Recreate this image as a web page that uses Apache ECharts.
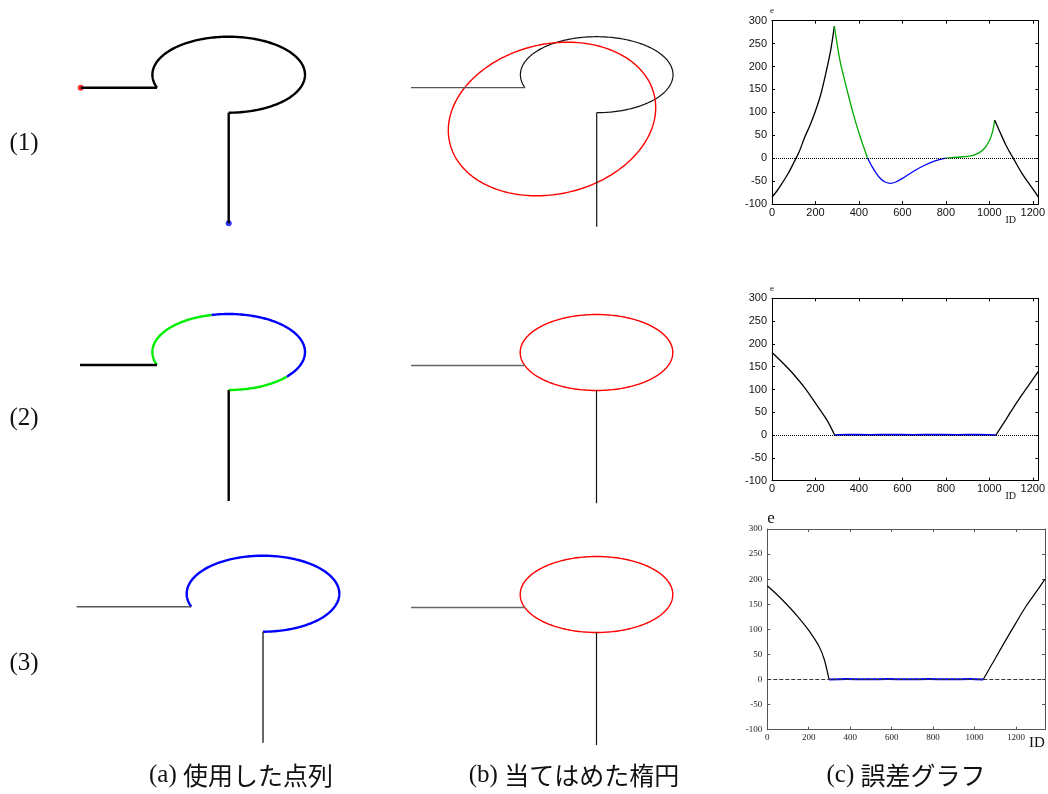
<!DOCTYPE html>
<html>
<head>
<meta charset="utf-8">
<script src="https://cdn.jsdelivr.net/npm/echarts@6/dist/echarts.min.js"></script>
<style>
  html, body { margin: 0; padding: 0; background: #fff; }
  #chart { width: 1048px; height: 794px; }
</style>
</head>
<body>
<div id="chart"></div>
<script>
// ---------- point sequences (drawing units, ellipse centre at origin, y up) ----------
// traced ellipse arc: radii and sweep (degrees, parametric angle)
const arcRadii = [76.3, 38];
const arcSweep = [200, -90];

// (1)(a)
const lead1a = [[-148, -13], [-71.7, -13]];
const stem1a = [[0, -38], [0, -148.6]];
// (1)(b)
const lead1b = [[-185.7, -13], [-71.7, -13]];
const stem1b = [[0, -38], [0, -152]];
const fit1b = [-44.7, -44.3, 105, 75, 13];      // cx, cy, a, b, tilt(deg)
// (2)(a)
const lead2a = [[-148.7, -13], [-71.7, -13]];
const stem2a = [[0, -38], [0, -149]];
const breaks2a = [200, 103, -40.5, -90];         // colour changes along the arc
// (2)(b)
const lead2b = [[-185.5, -13], [-71.7, -13]];
const stem2b = [[0, -38], [0, -150.8]];
const fit2b = [0, 0, 76.3, 38, 0];
// (3)(a)
const lead3a = [[-186.3, -13], [-71.7, -13]];
const stem3a = [[0, -38], [0, -149]];
// (3)(b)
const lead3b = [[-185.5, -13], [-71.7, -13]];
const stem3b = [[0, -38], [0, -150.5]];
const fit3b = [0, 0, 76.3, 38, 0];

// ---------- error curves e(ID) ----------
const err1Black1 = [[0,-85],[25,-70],[50,-52],[75,-33],[100,-10],[125,14],[150,45],[175,72],[200,103],[225,140],[250,190],[270,235],[287,288]];
const err1Green1 = [[287,288],[300,248],[315,208],[330,178],[350,140],[375,95],[400,55],[420,27],[440,0]];
const err1Blue   = [[440,0],[460,-18],[480,-33],[500,-45],[520,-52],[545,-55],[570,-52],[600,-44],[650,-29],[700,-16],[750,-6],[800,0]];
const err1Green2 = [[800,0],[850,2],[900,4],[925,6],[950,11],[975,20],[1000,38],[1015,58],[1025,83]];
const err1Black2 = [[1025,83],[1050,56],[1075,30],[1100,8],[1110,0],[1150,-33],[1200,-67],[1226,-85]];

const err2Black1 = [[0,181],[50,158],[100,133],[150,104],[200,70],[250,35],[270,18],[288,0]];
const err2Blue   = [[288,0],[350,1],[450,0.5],[550,1],[650,0.5],[750,1],[850,0.5],[950,1],[1030,0]];
const err2Black2 = [[1030,0],[1075,33],[1100,52],[1150,88],[1200,122],[1226,140]];

const err3Black1 = [[0,187],[50,168],[100,147],[150,124],[200,98],[250,66],[275,40],[298,0]];
const err3Blue   = [[298,0],[380,1],[480,0.5],[580,1],[680,0.5],[780,1],[880,0.5],[980,1],[1042,0]];
const err3Black2 = [[1042,0],[1100,42],[1150,78],[1200,113],[1250,147],[1300,176],[1340,200]];

const idMax = [1226, 1226, 1340];

// ---------- texts ----------
const rowLabels = ['(1)', '(2)', '(3)'];
const captionTags = ['(a)', '(b)', '(c)'];
const captionTexts = ['使用した点列', '当てはめた楕円', '誤差グラフ'];

// ---------- layout ----------
const SERIF = '"Liberation Serif", "DejaVu Serif", serif';
const SANS = '"Liberation Sans", Arial, sans-serif';
const CJK = '"Noto Sans CJK JP", sans-serif';

// shape panels: grid origin so that drawing units map 1:1 to pixels
const shapePanels = [
  { left: 28.7, top: 14.7 },   // (1)(a)
  { left: 396.7, top: 14.7 },  // (1)(b)
  { left: 28.7, top: 292 },    // (2)(a)
  { left: 396.5, top: 292.5 }, // (2)(b)
  { left: 63, top: 533.7 },    // (3)(a)
  { left: 396.5, top: 534.5 }  // (3)(b)
];
const errPanels = [
  { left: 772, top: 20.7, width: 269.7, height: 183.3 },
  { left: 772, top: 298.3, width: 269.7, height: 182.4 },
  { left: 767.3, top: 529, width: 279.4, height: 200.7 }
];

const grid = [];
const xAxis = [];
const yAxis = [];
shapePanels.forEach((p, i) => {
  grid.push({ left: p.left, top: p.top, width: 320, height: 220, show: false });
  xAxis.push({ type: 'value', gridIndex: i, min: -200, max: 120, show: false });
  yAxis.push({ type: 'value', gridIndex: i, min: -160, max: 60, show: false });
});

errPanels.forEach((p, k) => {
  const gi = shapePanels.length + k;
  const serifStyle = k === 2;
  const labelFont = serifStyle
    ? { fontFamily: SERIF, fontSize: 9, color: '#222' }
    : { fontFamily: SANS, fontSize: 11, color: '#111' };
  const frameColor = serifStyle ? '#555' : '#000';
  grid.push({ left: p.left, top: p.top, width: p.width, height: p.height, show: false });
  const xBase = {
    type: 'value', gridIndex: gi, min: 0, max: idMax[k], interval: 200,
    splitLine: { show: false },
    axisLine: { show: true, onZero: false, lineStyle: { color: frameColor, width: 1 } },
    axisTick: { show: true, inside: true, length: 3, lineStyle: { color: frameColor } }
  };
  xAxis.push(Object.assign({}, xBase, {
    position: 'bottom',
    name: 'ID',
    nameLocation: 'end',
    nameGap: serifStyle ? -56 : -34,
    nameTextStyle: {
      fontFamily: SERIF, fontSize: serifStyle ? 15 : 10, color: '#111',
      verticalAlign: 'top', align: 'left',
      padding: [serifStyle ? 6 : 11, 0, 0, 0]
    },
    axisLabel: Object.assign({
      margin: 3,
      formatter: v => (v % 200 === 0 ? String(v) : '')
    }, labelFont)
  }));
  xAxis.push(Object.assign({}, xBase, { position: 'top', axisLabel: { show: false } }));
  const yBase = {
    type: 'value', gridIndex: gi, min: -100, max: 300, interval: 50,
    splitLine: { show: false },
    axisLine: { show: true, onZero: false, lineStyle: { color: frameColor, width: 1 } },
    axisTick: { show: true, inside: true, length: 3, lineStyle: { color: frameColor } }
  };
  yAxis.push(Object.assign({}, yBase, {
    position: 'left',
    name: 'e',
    nameLocation: 'end',
    nameGap: serifStyle ? 2 : 3,
    nameTextStyle: {
      fontFamily: SERIF, fontSize: serifStyle ? 17 : 9, color: '#111',
      align: serifStyle ? 'left' : 'center'
    },
    axisLabel: Object.assign({ margin: 5 }, labelFont)
  }));
  yAxis.push(Object.assign({}, yBase, { position: 'right', axisLabel: { show: false } }));
});

// ---------- series builders ----------
function lineSeries(idx, data, color, width) {
  return {
    type: 'line', xAxisIndex: idx, yAxisIndex: idx, data: data,
    symbol: 'none', clip: false, silent: true,
    lineStyle: { color: color, width: width }
  };
}

// elliptical arc through the cartesian scales; value = [cx, cy, a, b, tilt, t0, t1]
function arcSeries(idx, params, color, width) {
  return {
    type: 'custom', xAxisIndex: idx, yAxisIndex: idx, silent: true, clip: false,
    data: [params],
    renderItem: function (p, api) {
      const c = api.coord([api.value(0), api.value(1)]);
      const sz = api.size([api.value(2), api.value(3)]);
      const tilt = api.value(4) * Math.PI / 180;
      const t0 = api.value(5), t1 = api.value(6);
      const n = Math.max(12, Math.ceil(Math.abs(t1 - t0) / 1.5));
      const pts = [];
      for (let i = 0; i <= n; i++) {
        const t = (t0 + (t1 - t0) * i / n) * Math.PI / 180;
        const ex = sz[0] * Math.cos(t);
        const ey = sz[1] * Math.sin(t);
        const rx = ex * Math.cos(tilt) - ey * Math.sin(tilt);
        const ry = ex * Math.sin(tilt) + ey * Math.cos(tilt);
        pts.push([c[0] + rx, c[1] - ry]);
      }
      return {
        type: 'polyline',
        shape: { points: pts },
        style: { stroke: color, lineWidth: width, fill: null }
      };
    }
  };
}

function tracedArc(idx, t0, t1, color, width) {
  return arcSeries(idx, [0, 0, arcRadii[0], arcRadii[1], 0, t0, t1], color, width);
}
function fittedEllipse(idx, fit, color, width) {
  return arcSeries(idx, [fit[0], fit[1], fit[2], fit[3], fit[4], 0, 360], color, width);
}

const series = [];
// (1)(a)
series.push(lineSeries(0, lead1a, '#000', 2.4));
series.push(tracedArc(0, arcSweep[0], arcSweep[1], '#000', 2.4));
series.push(lineSeries(0, stem1a, '#000', 2.4));
series.push({
  type: 'scatter', xAxisIndex: 0, yAxisIndex: 0, data: [lead1a[0]],
  symbolSize: 6, itemStyle: { color: '#ff0000' }, silent: true
});
series.push({
  type: 'scatter', xAxisIndex: 0, yAxisIndex: 0, data: [stem1a[stem1a.length - 1]],
  symbolSize: 6, itemStyle: { color: '#0000ff' }, silent: true
});
// (1)(b)
series.push(lineSeries(1, lead1b, '#555', 1.3));
series.push(tracedArc(1, arcSweep[0], arcSweep[1], '#111', 1.2));
series.push(lineSeries(1, stem1b, '#111', 1.2));
series.push(fittedEllipse(1, fit1b, '#ff0000', 1.4));
// (2)(a)
const segColors2a = ['#00ee00', '#0000ff', '#00ee00'];
series.push(lineSeries(2, lead2a, '#000', 2.4));
for (let i = 0; i < breaks2a.length - 1; i++) {
  series.push(tracedArc(2, breaks2a[i], breaks2a[i + 1], segColors2a[i], 2.4));
}
series.push(lineSeries(2, stem2a, '#000', 2.4));
// (2)(b): the fitted ellipse lies on the traced arc and hides it
series.push(lineSeries(3, lead2b, '#666', 1.4));
series.push(lineSeries(3, stem2b, '#111', 1.2));
series.push(fittedEllipse(3, fit2b, '#ff0000', 1.4));
// (3)(a)
series.push(lineSeries(4, lead3a, '#555', 1.5));
series.push(tracedArc(4, arcSweep[0], arcSweep[1], '#0000ff', 2.4));
series.push(lineSeries(4, stem3a, '#333', 1.5));
// (3)(b)
series.push(lineSeries(5, lead3b, '#666', 1.4));
series.push(lineSeries(5, stem3b, '#111', 1.2));
series.push(fittedEllipse(5, fit3b, '#ff0000', 1.4));

// error graphs
function errSeries(k, data, color, width) {
  const ax = shapePanels.length + 2 * k;
  return {
    type: 'line', xAxisIndex: ax, yAxisIndex: ax, data: data,
    symbol: 'none', smooth: 0.3, silent: true,
    lineStyle: { color: color, width: width }
  };
}
function zeroLine(k, type, color) {
  const ax = shapePanels.length + 2 * k;
  return {
    type: 'line', xAxisIndex: ax, yAxisIndex: ax, data: [], silent: true,
    markLine: {
      silent: true, symbol: ['none', 'none'], label: { show: false },
      lineStyle: { type: type, color: color, width: 1 },
      data: [{ yAxis: 0 }]
    }
  };
}
const GREEN = '#00aa00';
series.push(zeroLine(0, 'dotted', '#000'));
series.push(errSeries(0, err1Black1, '#000', 1.3));
series.push(errSeries(0, err1Green1, GREEN, 1.3));
series.push(errSeries(0, err1Blue, '#0000ff', 1.3));
series.push(errSeries(0, err1Green2, GREEN, 1.3));
series.push(errSeries(0, err1Black2, '#000', 1.3));

series.push(zeroLine(1, 'dotted', '#000'));
series.push(errSeries(1, err2Black1, '#000', 1.3));
series.push(errSeries(1, err2Blue, '#0000ff', 1.8));
series.push(errSeries(1, err2Black2, '#000', 1.3));

series.push(zeroLine(2, [4, 2], '#333'));
series.push(errSeries(2, err3Black1, '#000', 1.2));
series.push(errSeries(2, err3Blue, '#0000ff', 2));
series.push(errSeries(2, err3Black2, '#000', 1.2));

// ---------- row labels and captions ----------
const graphic = [];
const rowY = [143, 418, 663];
rowLabels.forEach((t, i) => {
  graphic.push({
    type: 'text', x: 24, y: rowY[i], silent: true,
    style: {
      text: t, fill: '#111', font: '25px ' + SERIF,
      align: 'center', verticalAlign: 'middle'
    }
  });
});
const capX = [241, 574, 906];
captionTags.forEach((tag, i) => {
  graphic.push({
    type: 'text', x: capX[i], y: 775, silent: true,
    style: {
      text: '{s|' + tag + ' }{j|' + captionTexts[i] + '}',
      align: 'center', verticalAlign: 'middle',
      rich: {
        s: { fontFamily: SERIF, fontSize: 25, fill: '#111' },
        j: { fontFamily: CJK, fontSize: 25, fill: '#111' }
      }
    }
  });
});

const chart = echarts.init(document.getElementById('chart'), null, { renderer: 'canvas' });
chart.setOption({
  animation: false,
  backgroundColor: '#fff',
  grid: grid,
  xAxis: xAxis,
  yAxis: yAxis,
  series: series,
  graphic: graphic
});
</script>
</body>
</html>
